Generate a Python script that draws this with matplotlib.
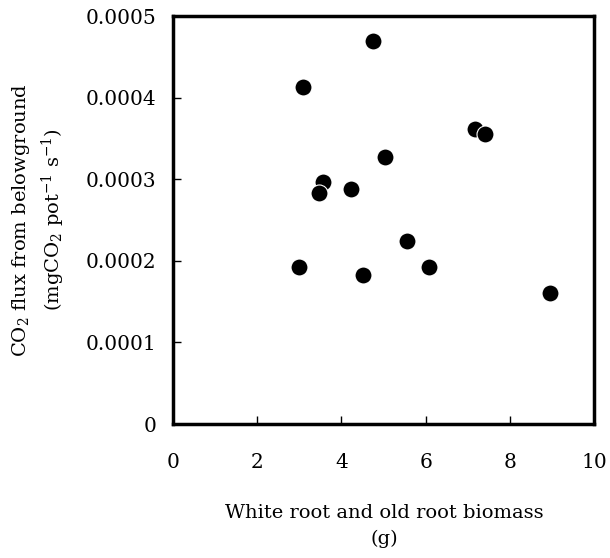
import matplotlib as mpl
import matplotlib.pyplot as plt

mpl.rcParams['font.family'] = 'DejaVu Serif'
mpl.rcParams['mathtext.fontset'] = 'dejavuserif'

# root biomass (g) vs belowground CO2 flux
biomass = [4.75, 3.09, 7.18, 7.42, 5.04, 3.56, 3.47, 4.23, 2.99, 4.52, 5.56, 6.09, 8.95]
flux = [0.000469, 0.000413, 0.0003615, 0.000356, 0.000327, 0.000296, 0.000283,
        0.000288, 0.000192, 0.000183, 0.000224, 0.000192, 0.0001605]

xticks = [0, 2, 4, 6, 8, 10]
yticks = [0, 0.0001, 0.0002, 0.0003, 0.0004, 0.0005]
ytick_labels = ['0', '0.0001', '0.0002', '0.0003', '0.0004', '0.0005']

fig = plt.figure(figsize=(6.1, 5.58), dpi=100)
ax = fig.add_axes([0.2836, 0.2401, 0.6902, 0.7312])

ax.scatter(biomass, flux, s=150, c='black', edgecolors='white', linewidths=0.8, zorder=3)

ax.set_xlim(0, 10)
ax.set_ylim(0, 0.0005)
ax.set_xticks(xticks)
ax.set_xticklabels([str(t) for t in xticks])
ax.set_yticks(yticks)
ax.set_yticklabels(ytick_labels)
ax.tick_params(axis='both', direction='in', length=6, width=1, labelsize=14.5)
ax.tick_params(axis='x', pad=21)
ax.tick_params(axis='y', pad=12)

for sp in ax.spines.values():
    sp.set_linewidth(2.5)

# axis titles placed in figure coordinates
fig.text(384 / 610, 1 - 526 / 558, 'White root and old root biomass\n(g)',
         fontsize=14, ha='center', va='center', linespacing=1.55)
fig.text(38.5 / 610, 1 - 220 / 558,
         'CO$_2$ flux from belowground\n(mgCO$_2$ pot$^{-1}$ s$^{-1}$)',
         fontsize=14, ha='center', va='center', rotation=90, linespacing=1.4)

plt.savefig('out.png', dpi=100)
